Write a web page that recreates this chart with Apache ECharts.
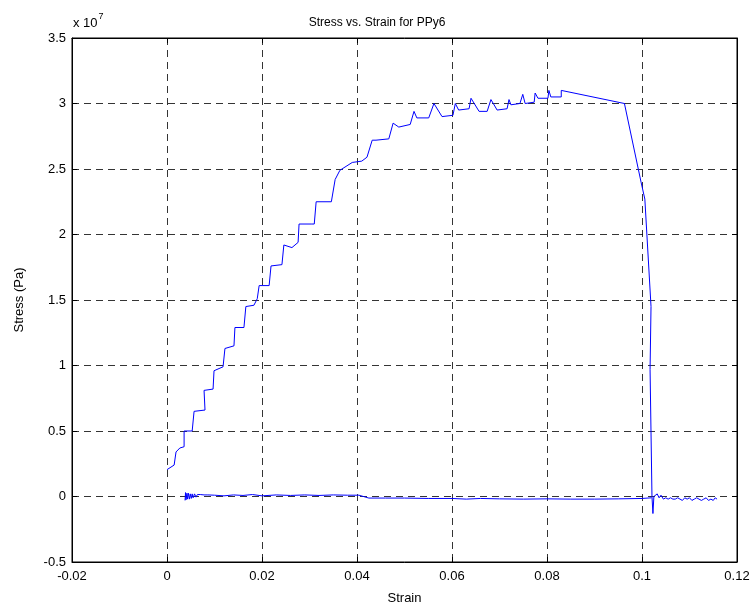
<!DOCTYPE html>
<html>
<head>
<meta charset="utf-8">
<script src="https://cdn.jsdelivr.net/npm/echarts@6/dist/echarts.min.js"></script>
<style>html,body{margin:0;padding:0;background:#fff}#c{width:754px;height:610px}</style>
</head>
<body>
<div id="c"></div>
<script>
// Stress in units of 1e7 Pa
const loadStrain = [0, 0.0015, 0.0019, 0.0027, 0.0036, 0.0036, 0.0053, 0.0057, 0.0080, 0.0078, 0.0097, 0.0099, 0.0118, 0.0122, 0.0141, 0.0143, 0.0162, 0.0166, 0.0183, 0.0190, 0.0194, 0.0215, 0.0219, 0.0242, 0.0246, 0.0263, 0.0276, 0.0278, 0.0305, 0.0310, 0.0314, 0.0346, 0.0354, 0.0364, 0.0390, 0.0410, 0.0421, 0.0432, 0.0440, 0.0467, 0.0476, 0.0488, 0.0512, 0.0520, 0.0526, 0.0551, 0.0562, 0.0579, 0.0602, 0.0607, 0.0614, 0.0636, 0.0640, 0.0657, 0.0674, 0.0682, 0.0695, 0.0716, 0.0720, 0.0724, 0.0743, 0.0749, 0.0754, 0.0773, 0.0775, 0.0781, 0.0802, 0.0804, 0.0808, 0.0830, 0.0830, 0.0963, 0.0998, 0.1006, 0.1019, 0.1017, 0.1021, 0.1023, 0.1025, 0.1028, 0.1032, 0.1036, 0.1040, 0.1045, 0.1050, 0.1055, 0.1060, 0.1065, 0.1070, 0.1075, 0.1080, 0.1085, 0.1090, 0.1095, 0.1100, 0.1105, 0.1110, 0.1115, 0.1120, 0.1125, 0.1130, 0.1135, 0.1140, 0.1145, 0.1150, 0.1154, 0.1158];
const loadStress = [0.205, 0.24, 0.34, 0.37, 0.38, 0.50, 0.50, 0.65, 0.66, 0.81, 0.82, 0.96, 0.99, 1.13, 1.15, 1.29, 1.29, 1.45, 1.46, 1.51, 1.61, 1.61, 1.76, 1.77, 1.92, 1.90, 1.94, 2.08, 2.08, 2.08, 2.25, 2.25, 2.42, 2.49, 2.55, 2.56, 2.59, 2.72, 2.72, 2.73, 2.85, 2.82, 2.84, 2.94, 2.89, 2.89, 3.00, 2.90, 2.91, 3.00, 2.95, 2.96, 3.04, 2.94, 2.94, 3.03, 2.95, 2.96, 3.03, 2.99, 3.00, 3.07, 3.00, 3.01, 3.08, 3.04, 3.04, 3.10, 3.05, 3.05, 3.10, 3.00, 2.40, 2.27, 1.45, 0.97, 0.00, -0.13, 0.00, -0.01, 0.02, -0.01, 0.01, -0.02, -0.01, -0.02, -0.01, -0.02, -0.02, -0.01, -0.02, -0.03, -0.01, -0.02, -0.01, -0.03, -0.02, -0.01, -0.02, -0.03, -0.02, -0.01, -0.03, -0.02, -0.03, -0.01, -0.02];
const baseStrain = [0.0038, 0.0039, 0.0040, 0.0042, 0.0043, 0.0045, 0.0047, 0.0049, 0.0051, 0.0053, 0.0055, 0.0058, 0.0061, 0.0064, 0.0067, 0.0070, 0.0074, 0.0078, 0.0082, 0.0086, 0.0090, 0.0100, 0.0120, 0.0140, 0.0160, 0.0180, 0.0200, 0.0230, 0.0260, 0.0290, 0.0320, 0.0350, 0.0380, 0.0404, 0.0425, 0.0460, 0.0500, 0.0550, 0.0600, 0.0630, 0.0660, 0.0700, 0.0750, 0.0800, 0.0850, 0.0900, 0.0950, 0.1000, 0.1020];
const baseStress = [-0.03, 0.03, -0.025, 0.025, -0.02, 0.025, -0.02, 0.02, -0.015, 0.02, -0.01, 0.02, -0.005, 0.015, 0.0, 0.015, 0.0, 0.012, 0.002, 0.012, 0.005, 0.01, 0.005, 0.012, 0.008, 0.015, 0.005, 0.012, 0.008, 0.012, 0.008, 0.012, 0.01, 0.01, -0.012, -0.012, -0.012, -0.015, -0.015, -0.02, -0.015, -0.018, -0.02, -0.018, -0.02, -0.02, -0.018, -0.015, -0.01];
const xTicks = [-0.02, 0, 0.02, 0.04, 0.06, 0.08, 0.1, 0.12];
const yTicks = [-0.5, 0, 0.5, 1, 1.5, 2, 2.5, 3, 3.5];

const chart = echarts.init(document.getElementById('c'), null, {renderer: 'canvas'});
const font = 'Liberation Sans, Arial, sans-serif';
const dashStyle = {color: '#000', width: 0.8, type: [7, 5]};
const xBase = {type: 'value', min: xTicks[0], max: xTicks[xTicks.length - 1], interval: 0.02};
const yBase = {type: 'value', min: yTicks[0], max: yTicks[yTicks.length - 1], interval: 0.5};
chart.setOption({
  animation: false,
  backgroundColor: '#fff',
  title: {text: 'Stress vs. Strain for PPy6', left: 'center', top: 12,
    textStyle: {fontFamily: font, fontSize: 12, fontWeight: 'normal', color: '#000'}},
  grid: {left: 72, right: 17, top: 38, bottom: 46, show: true, borderColor: '#000', borderWidth: 1},
  xAxis: [
    Object.assign({}, xBase, {position: 'bottom', name: 'Strain', nameLocation: 'middle', nameGap: 30,
      nameTextStyle: {fontFamily: font, fontSize: 13, color: '#000'},
      axisLine: {show: true, onZero: false, lineStyle: {color: '#000'}},
      axisTick: {show: true, inside: true, length: 5, lineStyle: {color: '#000'}},
      axisLabel: {fontFamily: font, fontSize: 13, color: '#000', margin: 8},
      splitLine: {show: true, lineStyle: dashStyle}}),
    Object.assign({}, xBase, {position: 'top',
      axisLine: {show: true, onZero: false, lineStyle: {color: '#000'}},
      axisTick: {show: true, inside: true, length: 5, lineStyle: {color: '#000'}},
      axisLabel: {show: false}, splitLine: {show: false}})
  ],
  yAxis: [
    Object.assign({}, yBase, {position: 'left', name: 'Stress (Pa)', nameLocation: 'middle', nameGap: 46,
      nameTextStyle: {fontFamily: font, fontSize: 13, color: '#000'},
      axisLine: {show: true, onZero: false, lineStyle: {color: '#000'}},
      axisTick: {show: true, inside: true, length: 5, lineStyle: {color: '#000'}},
      axisLabel: {fontFamily: font, fontSize: 13, color: '#000', margin: 6},
      splitLine: {show: true, lineStyle: dashStyle}}),
    Object.assign({}, yBase, {position: 'right',
      axisLine: {show: true, onZero: false, lineStyle: {color: '#000'}},
      axisTick: {show: true, inside: true, length: 5, lineStyle: {color: '#000'}},
      axisLabel: {show: false}, splitLine: {show: false}})
  ],
  graphic: [{
    type: 'text', left: 73, top: 12,
    style: {text: '{a|x 10}{b|7}', rich: {
      a: {fontFamily: font, fontSize: 13, fill: '#000', padding: [8, 0, 0, 0]},
      b: {fontFamily: font, fontSize: 9, fill: '#000', padding: [0, 0, 6, 1]}}}
  }],
  series: [
    {type: 'line', xAxisIndex: 0, yAxisIndex: 0, showSymbol: false, silent: true,
      lineStyle: {color: '#0000ff', width: 1}, data: loadStrain.map((s, i) => [s, loadStress[i]])},
    {type: 'line', xAxisIndex: 0, yAxisIndex: 0, showSymbol: false, silent: true,
      lineStyle: {color: '#0000ff', width: 1}, data: baseStrain.map((s, i) => [s, baseStress[i]])}
  ]
});
</script>
</body>
</html>
